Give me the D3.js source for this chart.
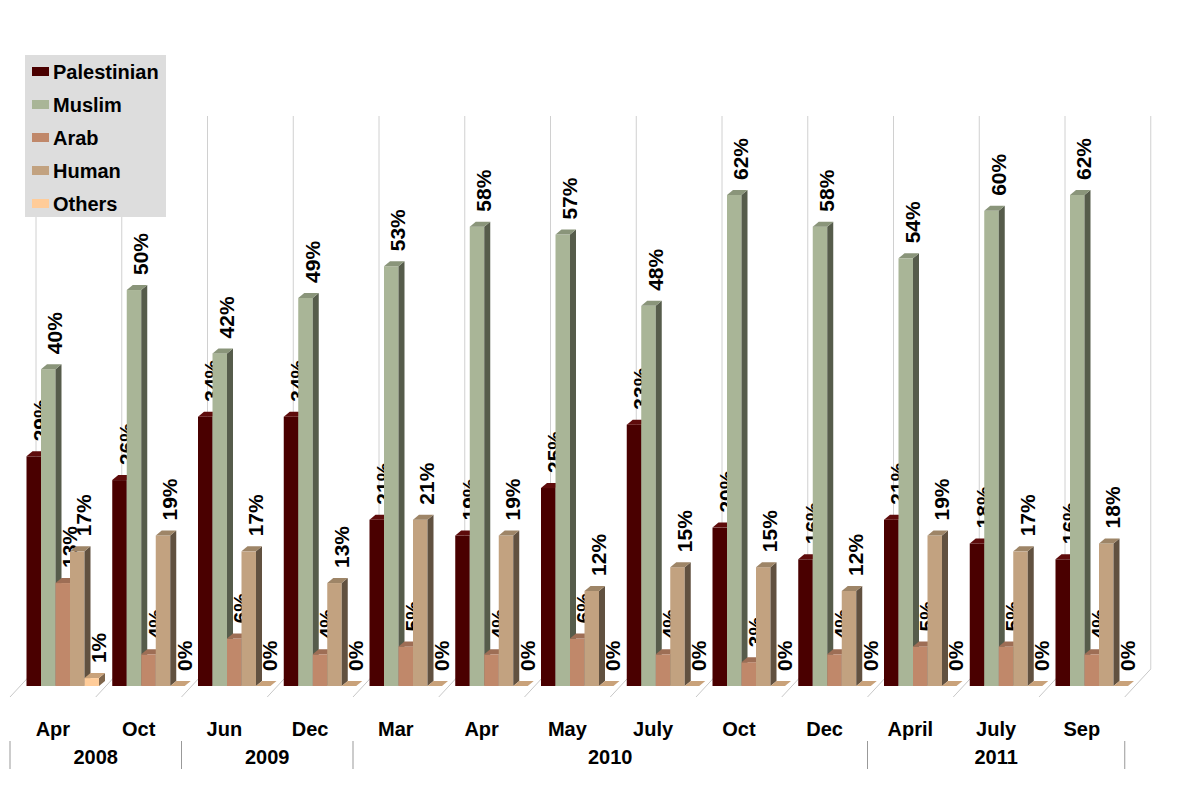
<!DOCTYPE html>
<html>
<head>
<meta charset="utf-8">
<script src="https://cdn.jsdelivr.net/npm/d3@7"></script>
<style>
  html, body { margin: 0; padding: 0; background: #ffffff; }
  svg { display: block; }
  text { font-family: "Liberation Sans", Arial, sans-serif; font-weight: bold; fill: #000; }
</style>
</head>
<body>
<svg id="chart" width="1180" height="794"></svg>
<script>
// ---------- data ----------
const months = ["Apr", "Oct", "Jun", "Dec", "Mar", "Apr", "May", "July", "Oct", "Dec", "April", "July", "Sep"];
const yearLabels = ["2008", "2009", "2010", "2011"];
const yearSpans = [2, 2, 6, 3];
const seriesNames = ["Palestinian", "Muslim", "Arab", "Human", "Others"];
const palestinian = [29, 26, 34, 34, 21, 19, 25, 33, 20, 16, 21, 18, 16];
const muslim      = [40, 50, 42, 49, 53, 58, 57, 48, 62, 58, 54, 60, 62];
const arab        = [13, 4, 6, 4, 5, 4, 6, 4, 3, 4, 5, 5, 4];
const human       = [17, 19, 17, 13, 21, 19, 12, 15, 15, 12, 19, 17, 18];
const others      = [1, 0, 0, 0, 0, 0, 0, 0, 0, 0, 0, 0, 0];
const seriesValues = [palestinian, muslim, arab, human, others];

// ---------- styles ----------
const faceColors = [
  { front: "#4A0000", side: "#2A0000", top: "#5E0B0B" },
  { front: "#A9B597", side: "#565C4B", top: "#8A957A" },
  { front: "#C0886A", side: "#604435", top: "#9E6E55" },
  { front: "#C2A280", side: "#615140", top: "#9E8567" },
  { front: "#FFCC99", side: "#7F664C", top: "#C9A27A" }
];

const svg = d3.select("#chart");

const step = 85.75;
const x = d3.scaleBand().domain(d3.range(months.length)).range([10, 10 + step * months.length]).paddingInner(0).paddingOuter(0);
const xInner = d3.scaleBand().domain(seriesNames).range([16.5, 16.5 + 72.5]);
const y = d3.scaleLinear().domain([0, 62]).range([686, 195]);

const floorFrontY = 697, floorBackY = 669, wallDX = 26, gridTop = 116;
const dDX = 6, dDY = 5;   // bar depth offset

// ---------- back wall gridlines & floor lines ----------
const gridG = svg.append("g");
const bounds = d3.range(months.length + 1).map(k => x.range()[0] + k * x.step());
bounds.forEach(b => {
  gridG.append("line")
    .attr("x1", b).attr("y1", floorFrontY).attr("x2", b + wallDX).attr("y2", floorBackY)
    .attr("stroke", "#c8c8c8").attr("stroke-width", 1);
  gridG.append("line")
    .attr("x1", b + wallDX).attr("y1", floorBackY).attr("x2", b + wallDX).attr("y2", gridTop)
    .attr("stroke", "#d0d0d0").attr("stroke-width", 1);
});

// ---------- bars ----------
const barsG = svg.append("g");
months.forEach((m, i) => {
  const g = barsG.append("g");
  seriesNames.forEach((s, j) => {
    const v = seriesValues[j][i];
    const x0 = x(i) + xInner(s);
    const w = xInner.bandwidth();
    const yt = y(v), yb = y(0);
    const c = faceColors[j];
    if (v > 0) {
      g.append("rect").attr("x", x0).attr("y", yt).attr("width", w).attr("height", yb - yt).attr("fill", c.front);
      g.append("path")
        .attr("d", `M${x0 + w},${yt} L${x0 + w + dDX},${yt - dDY} L${x0 + w + dDX},${yb - dDY} L${x0 + w},${yb} Z`)
        .attr("fill", c.side);
    }
    g.append("path")
      .attr("d", `M${x0},${yt} L${x0 + dDX},${yt - dDY} L${x0 + w + dDX},${yt - dDY} L${x0 + w},${yt} Z`)
      .attr("fill", c.top);
    // value label
    const lx = x0 + w / 2 + 6.5, ly = yt - 15;
    g.append("text")
      .attr("transform", `translate(${lx},${ly}) rotate(-90)`)
      .attr("text-anchor", "start")
      .attr("dominant-baseline", "central")
      .style("font-size", "21px")
      .text(v + "%");
  });
});

// ---------- category axis ----------
const axisG = svg.append("g");
months.forEach((m, i) => {
  axisG.append("text")
    .attr("x", x(i) + x.bandwidth() / 2).attr("y", 736)
    .attr("text-anchor", "middle").style("font-size", "20px").text(m);
});
let cum = 0;
const sepPositions = [0];
yearLabels.forEach((yl, k) => {
  const start = cum, end = cum + yearSpans[k];
  const xs = x.range()[0] + start * x.step(), xe = x.range()[0] + end * x.step();
  axisG.append("text")
    .attr("x", (xs + xe) / 2).attr("y", 764)
    .attr("text-anchor", "middle").style("font-size", "20px").text(yl);
  cum = end;
  sepPositions.push(cum);
});
sepPositions.forEach(p => {
  const xp = x.range()[0] + p * x.step();
  axisG.append("line").attr("x1", xp).attr("x2", xp).attr("y1", 741).attr("y2", 769)
    .attr("stroke", "#999").attr("stroke-width", 1);
});

// ---------- legend ----------
const leg = svg.append("g");
leg.append("rect").attr("x", 25).attr("y", 55).attr("width", 141).attr("height", 162).attr("fill", "#DDDDDD");
seriesNames.forEach((s, j) => {
  const cy = 72 + j * 33;
  leg.append("rect").attr("x", 32).attr("y", cy - 5).attr("width", 17).attr("height", 9).attr("fill", faceColors[j].front);
  leg.append("text").attr("x", 53).attr("y", cy).attr("dominant-baseline", "central")
    .style("font-size", "20px").text(s);
});
</script>
</body>
</html>
